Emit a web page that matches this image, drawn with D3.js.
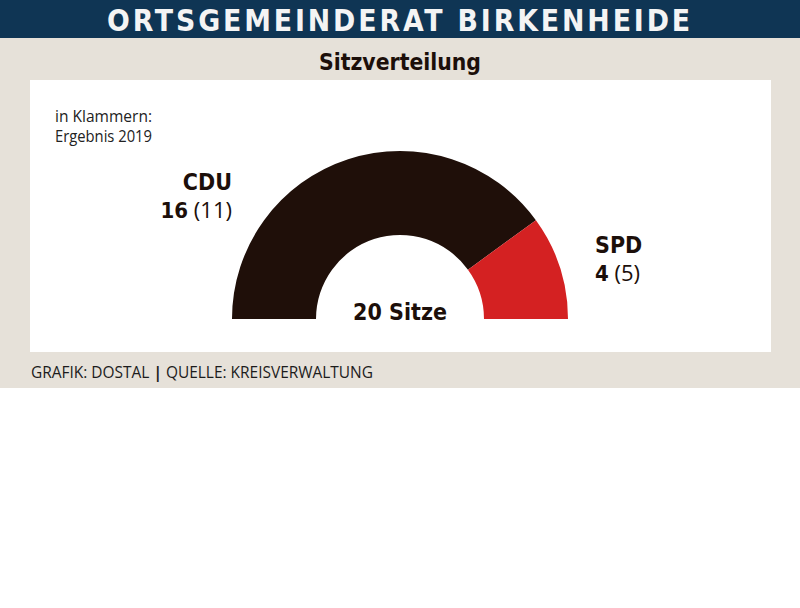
<!DOCTYPE html>
<html>
<head>
<meta charset="utf-8">
<script src="https://cdn.jsdelivr.net/npm/d3@7"></script>
<style>
  body { margin: 0; background: #fff; }
  svg text { font-family: "DejaVu Sans", sans-serif; font-stretch: condensed; }
  svg text.reg { font-family: "Open Sans", "Noto Sans", sans-serif; font-stretch: normal; }
</style>
</head>
<body>
<svg id="chart" width="800" height="608"></svg>
<script>
// daten
var parties = ["CDU", "SPD"];
var seats = [16, 4];
var seats2019 = [11, 5];
var colors = ["#1f0f09", "#d42122"];

var width = 800, height = 608;
var svg = d3.select("#chart");

// hintergrund
svg.append("rect").attr("x", 0).attr("y", 0).attr("width", width).attr("height", 388).attr("fill", "#e6e1d9");
svg.append("rect").attr("x", 0).attr("y", 0).attr("width", width).attr("height", 38).attr("fill", "#0f3554");
svg.append("rect").attr("x", 30).attr("y", 80).attr("width", 741).attr("height", 272).attr("fill", "#ffffff");

// titel
svg.append("text")
  .attr("x", 400).attr("y", 31)
  .attr("text-anchor", "middle")
  .attr("font-size", 31).attr("font-weight", "bold")
  .attr("fill", "#f4f4f4")
  .attr("letter-spacing", 3)
  .attr("textLength", 586).attr("lengthAdjust", "spacingAndGlyphs")
  .text("ORTSGEMEINDERAT BIRKENHEIDE");

svg.append("text")
  .attr("x", 400).attr("y", 70)
  .attr("text-anchor", "middle")
  .attr("font-size", 23).attr("font-weight", "bold")
  .attr("fill", "#1c0f0a")
  .attr("textLength", 162).attr("lengthAdjust", "spacingAndGlyphs")
  .text("Sitzverteilung");

// hinweis
svg.append("text").attr("class", "reg").attr("x", 55).attr("y", 122).attr("font-size", 16).attr("fill", "#222")
  .attr("textLength", 97).attr("lengthAdjust", "spacingAndGlyphs")
  .text("in Klammern:");
svg.append("text").attr("class", "reg").attr("x", 55).attr("y", 142).attr("font-size", 16).attr("fill", "#222")
  .attr("textLength", 97).attr("lengthAdjust", "spacingAndGlyphs")
  .text("Ergebnis 2019");

// halbkreis
var cx = 400, cy = 319;
var pie = d3.pie().sort(null).startAngle(-Math.PI / 2).endAngle(Math.PI / 2);
var arc = d3.arc().innerRadius(84).outerRadius(168);
var arcs = pie(seats);

svg.append("g").attr("transform", "translate(" + cx + "," + cy + ")")
  .selectAll("path").data(arcs).enter().append("path")
  .attr("d", arc)
  .attr("fill", function (d, i) { return colors[i]; });

svg.append("text")
  .attr("x", cx).attr("y", 320)
  .attr("text-anchor", "middle")
  .attr("font-size", 23).attr("font-weight", "bold")
  .attr("fill", "#1c0f0a")
  .text(d3.sum(seats) + " Sitze");

// beschriftungen
var labelPos = [
  { x: 232, y: 190, anchor: "end" },
  { x: 595, y: 253, anchor: "start" }
];
parties.forEach(function (p, i) {
  var lp = labelPos[i];
  svg.append("text")
    .attr("x", lp.x).attr("y", lp.y)
    .attr("text-anchor", lp.anchor)
    .attr("font-size", 23).attr("font-weight", "bold")
    .attr("fill", "#1c0f0a")
    .text(p);
  var t = svg.append("text")
    .attr("x", lp.x).attr("y", lp.y + 28)
    .attr("text-anchor", lp.anchor)
    .attr("font-size", 22)
    .attr("fill", "#1c0f0a");
  t.append("tspan").attr("font-weight", "bold").text(seats[i]);
  t.append("tspan").attr("font-family", "Open Sans, sans-serif").attr("font-stretch", "normal")
    .text(" (" + seats2019[i] + ")");
});

// quelle
var q = svg.append("text").attr("class", "reg").attr("x", 31).attr("y", 378).attr("font-size", 16).attr("fill", "#1c1c1c")
  .attr("textLength", 342).attr("lengthAdjust", "spacingAndGlyphs");
q.append("tspan").text("GRAFIK: DOSTAL ");
q.append("tspan").attr("font-weight", "bold").text("|");
q.append("tspan").text(" QUELLE: KREISVERWALTUNG");
</script>
</body>
</html>
